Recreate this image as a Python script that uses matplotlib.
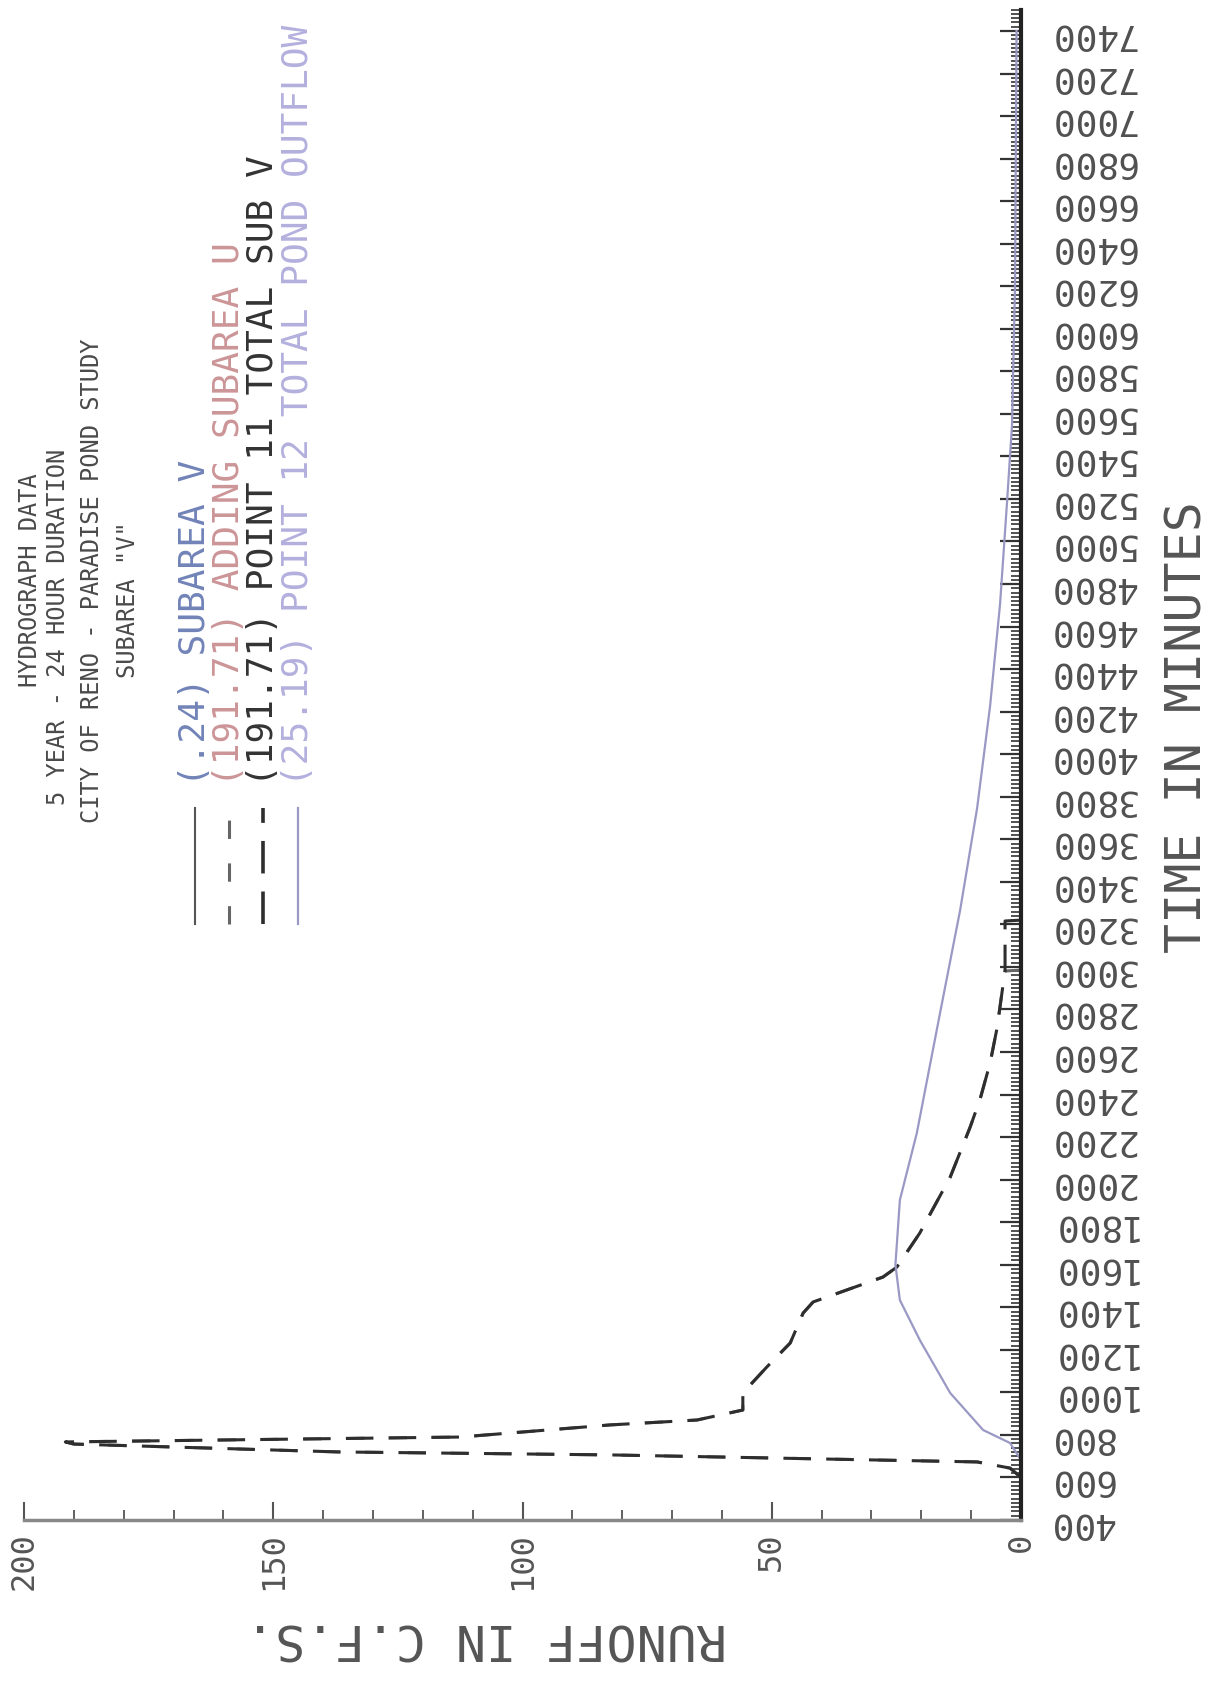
"""
Hydrograph data - 5 year / 24 hour, Paradise Pond study, subarea V.
Plot is drawn sideways like the original plotter sheet:
time runs bottom -> top, runoff runs right -> left.
"""
import matplotlib
matplotlib.use("Agg")
import matplotlib.pyplot as plt
from matplotlib.lines import Line2D
from matplotlib.ticker import MultipleLocator
import numpy as np

# ---- data (minutes, cfs) ----
time_v = [400, 680, 720, 760, 820, 900, 1100, 7400]
flow_v = [0, 0, 0.1, 0.24, 0.15, 0.06, 0, 0]

time_u = [400, 600, 644, 673, 706, 720, 757, 767, 790, 847, 870, 917, 997,
          1119, 1232, 1373, 1425, 1542, 1589, 1749, 2012, 2247, 2379, 2548,
          2713, 2882, 2981, 2985, 7400]
flow_u = [0, 0, 2.2, 8.8, 82.4, 137, 190, 191.71, 112.5, 82.4, 65, 55.8, 55.8,
          51, 46.3, 43.7, 41.7, 27.7, 24.9, 20.3, 14.2, 10.2, 8.2, 6.2,
          4.8, 3.8, 3.2, 0, 0]

time_p11 = [400, 600, 644, 673, 706, 720, 757, 767, 790, 847, 870, 917, 997,
            1119, 1232, 1373, 1425, 1542, 1589, 1749, 2012, 2247, 2379, 2548,
            2713, 2882, 2981, 3216, 3220, 7400]
flow_p11 = [0, 0, 2.2, 8.8, 82.4, 137, 190, 191.71, 112.5, 82.4, 65, 55.8, 55.8,
            51, 46.3, 43.7, 41.7, 27.7, 24.9, 20.3, 14.2, 10.2, 8.2, 6.2,
            4.8, 3.8, 3.2, 3.2, 0, 0]

time_pond = [400, 682, 762, 823, 997, 1246, 1434, 1600, 1904, 2219, 2788, 3268,
             3747, 4227, 4706, 5186, 5548, 6200, 7400]
flow_pond = [0, 0, 2.2, 7.6, 14.2, 20.3, 24.3, 25.19, 24.3, 20.9, 16.2, 12.2,
             8.8, 6.2, 4.2, 2.8, 1.8, 1.2, 0.9]

time_ticks = list(range(400, 7401, 200))
runoff_ticks = [200, 150, 100, 50, 0]

title_lines = ["HYDROGRAPH DATA", "5 YEAR - 24 HOUR DURATION",
               "CITY OF RENO - PARADISE POND STUDY", 'SUBAREA "V"']
legend_labels = ["(.24) SUBAREA V", "(191.71) ADDING SUBAREA U",
                 "(191.71) POINT 11 TOTAL SUB V",
                 "(25.19) POINT 12 TOTAL POND OUTFLOW"]

# ---- styles ----
FONT = "DejaVu Sans Mono"
W, H = 1219, 1694
col_v = "#6b7db5"
col_u = "#666666"
col_p11 = "#2e2e2e"
col_pond = "#9a98c4"
ls_u = (0, (6, 8))
ls_p11 = (0, (9, 5))
legend_colors = ["#7183b8", "#cc9598", "#333333", "#b3b0dd"]


def fx(px):
    return px / W


def fy(py):
    return 1 - py / H


fig = plt.figure(figsize=(W / 100, H / 100), dpi=100)
ax = fig.add_axes([fx(24), fy(1520), fx(1021) - fx(24), fy(9.7) - fy(1520)])

ax.plot(flow_v, time_v, color=col_v, lw=1.2)
ax.plot(flow_u, time_u, color=col_u, lw=2.2, linestyle=ls_u)
ax.plot(flow_p11, time_p11, color=col_p11, lw=2.2, linestyle=ls_p11)
ax.plot(flow_pond, time_pond, color=col_pond, lw=1.6)

ax.set_xlim(200, 0)
ax.set_ylim(400, 7500)

for s in ["top", "left"]:
    ax.spines[s].set_visible(False)
ax.spines["right"].set_color("#222222")
ax.spines["right"].set_linewidth(3)
ax.spines["bottom"].set_color("#888888")
ax.spines["bottom"].set_linewidth(2.5)

# time axis (right side, labels upside down like the sheet)
ax.yaxis.tick_right()
ax.set_yticks(time_ticks)
ax.set_yticklabels([str(t) for t in time_ticks])
ax.yaxis.set_minor_locator(MultipleLocator(20))
ax.tick_params(axis="y", which="major", direction="in", length=15, width=1.6,
               color="#333333", pad=20, labelsize=26, labelrotation=180,
               labelcolor="#505050")
ax.tick_params(axis="y", which="minor", direction="in", length=7, width=1.2,
               color="#333333")

# runoff axis (bottom)
ax.set_xticks(runoff_ticks)
ax.set_xticklabels([str(r) for r in runoff_ticks])
ax.xaxis.set_minor_locator(MultipleLocator(10))
ax.tick_params(axis="x", which="major", direction="in", length=13, width=1.5,
               color="#555555", pad=9, labelsize=23, labelrotation=90,
               labelcolor="#555555")
ax.tick_params(axis="x", which="minor", direction="in", length=7, width=1.3,
               color="#555555")
for lab in ax.get_xticklabels() + ax.get_yticklabels():
    lab.set_family(FONT)

fig.text(fx(1187), fy(727), "TIME IN MINUTES", rotation=90, ha="center",
         va="center", fontsize=36, family=FONT, color="#555555")
fig.text(fx(486), fy(1637), "RUNOFF IN C.F.S.", rotation=180, ha="center",
         va="center", fontsize=36, family=FONT, color="#555555")

# title block
title_x = [30, 58, 92, 128]
title_y = [580, 627, 581, 600]
for s, x, y in zip(title_lines, title_x, title_y):
    fig.text(fx(x), fy(y), s, rotation=90, ha="center", va="center",
             fontsize=17, family=FONT, color="#4a4a4a")

# legend: line samples + labels, written sideways
leg_x = [195, 229, 263, 298]
leg_styles = [dict(color="#555555", lw=1.5, linestyle="-"),
              dict(color=col_u, lw=2.2, linestyle=ls_u),
              dict(color=col_p11, lw=2.6, linestyle=ls_p11),
              dict(color=col_pond, lw=1.6, linestyle="-")]
for x, st, lab, c in zip(leg_x, leg_styles, legend_labels, legend_colors):
    fig.add_artist(Line2D([fx(x), fx(x)], [fy(924), fy(808)],
                          transform=fig.transFigure, **st))
    fig.text(fx(x), fy(786), lab, rotation=90, rotation_mode="anchor",
             ha="left", va="center", fontsize=26, family=FONT, color=c)

fig.savefig("out.png", dpi=100, facecolor="white")
